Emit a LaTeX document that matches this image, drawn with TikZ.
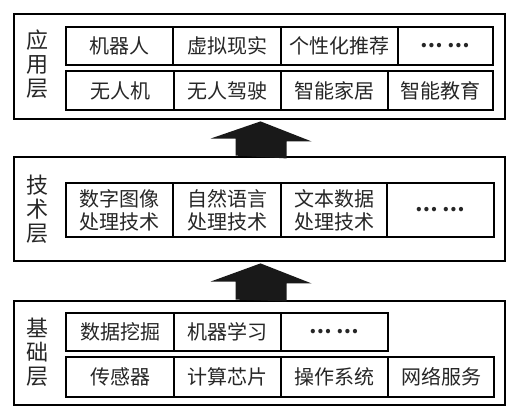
\documentclass[tikz,border=0pt]{standalone}
\usepackage{fontspec}
\newfontfamily\cjk{Noto Sans CJK SC}
\begin{document}
\begin{tikzpicture}[x=1pt,y=-1pt,
  layer/.style={draw=black,line width=2.8pt,fill=white},
  cell/.style={draw=black,line width=2pt,inner sep=0pt,font=\cjk\fontsize{20}{23}\selectfont,align=center,text=black!85},
  lbl/.style={font=\cjk\fontsize{22}{24}\selectfont,align=center,inner sep=0pt,text=black!85},
  bigarrow/.style={fill=black!90,draw=none}]
\useasboundingbox (0,0) rectangle (517,418);
% layers
\node[layer,minimum width=491pt,minimum height=105pt,inner sep=0pt] (L1) at (259.5,66.5) {};
\node[layer,minimum width=491pt,minimum height=104pt,inner sep=0pt] (L2) at (259.5,209) {};
\node[layer,minimum width=491pt,minimum height=104pt,inner sep=0pt] (L3) at (259.5,353) {};
% labels
\node[lbl] (t1) at (38,64) {应\\用\\层};
\node[lbl] (t2) at (38,209) {技\\术\\层};
\node[lbl] (t3) at (38,352) {基\\础\\层};
% application layer
\node[cell,minimum width=107pt,minimum height=38pt] (a1) at (119.5,46) {机器人};
\node[cell,minimum width=108pt,minimum height=38pt] (a2) at (227,46) {虚拟现实};
\node[cell,minimum width=117pt,minimum height=38pt] (a3) at (339.5,46) {个性化推荐};
\node[cell,minimum width=95pt,minimum height=38pt] (a4) at (445.5,46) {\textbf{…\ …}};
\node[cell,minimum width=108pt,minimum height=39pt] (b1) at (120,90.5) {无人机};
\node[cell,minimum width=107pt,minimum height=39pt] (b2) at (227.5,90.5) {无人驾驶};
\node[cell,minimum width=107pt,minimum height=39pt] (b3) at (334.5,90.5) {智能家居};
\node[cell,minimum width=105pt,minimum height=39pt] (b4) at (440.5,90.5) {智能教育};
% technology layer
\node[cell,minimum width=107pt,minimum height=54pt] (c1) at (119.5,210) {数字图像\\处理技术};
\node[cell,minimum width=108pt,minimum height=54pt] (c2) at (227,210) {自然语言\\处理技术};
\node[cell,minimum width=106pt,minimum height=54pt] (c3) at (334,210) {文本数据\\处理技术};
\node[cell,minimum width=107pt,minimum height=54pt] (c4) at (440.5,210) {\textbf{…\ …}};
% base layer
\node[cell,minimum width=108pt,minimum height=38pt] (d1) at (120,332) {数据挖掘};
\node[cell,minimum width=107pt,minimum height=38pt] (d2) at (227.5,332) {机器学习};
\node[cell,minimum width=107pt,minimum height=38pt] (d3) at (334.5,332) {\textbf{…\ …}};
\node[cell,minimum width=108pt,minimum height=40pt] (e1) at (120,377) {传感器};
\node[cell,minimum width=107pt,minimum height=40pt] (e2) at (227.5,377) {计算芯片};
\node[cell,minimum width=107pt,minimum height=40pt] (e3) at (334.5,377) {操作系统};
\node[cell,minimum width=106pt,minimum height=40pt] (e4) at (441,377) {网络服务};
% arrows
\fill[bigarrow] ([xshift=1pt]L2.north) ++(-25,0) -- ++(0,-17) -- ++(-25,0) -- ([xshift=1pt,yshift=-1pt]L1.south) -- ++(51,20) -- ++(-25,0) -- ++(0,17) -- cycle;
\fill[bigarrow] ([xshift=1pt]L3.north) ++(-25,0) -- ++(0,-18) -- ++(-25,0) -- ([xshift=1pt,yshift=-1pt]L2.south) -- ++(51,20) -- ++(-25,0) -- ++(0,18) -- cycle;
\end{tikzpicture}
\end{document}
